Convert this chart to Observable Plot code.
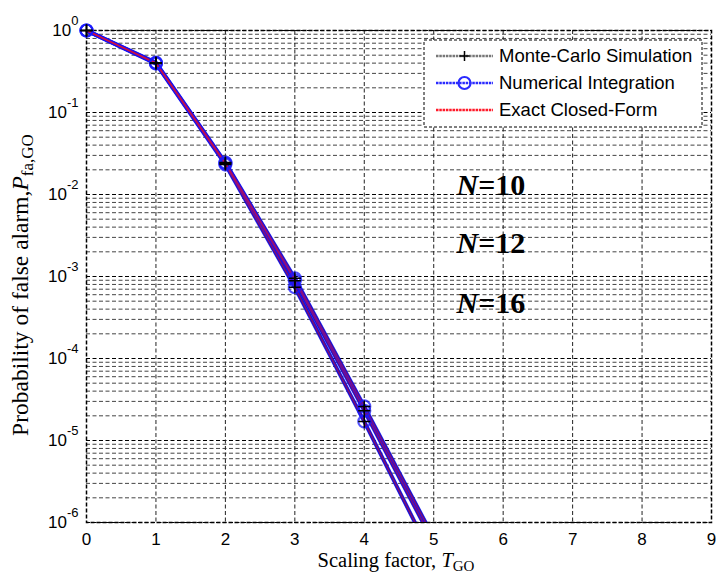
<!DOCTYPE html>
<html>
<head>
<meta charset="utf-8">
<script src="https://cdn.jsdelivr.net/npm/d3@7"></script>
<script src="https://cdn.jsdelivr.net/npm/@observablehq/plot@0.6"></script>
<style>
  html, body { margin: 0; padding: 0; background: #fff; }
  #chart { width: 716px; height: 578px; }
</style>
</head>
<body>
<div id="chart"></div>
<script>
// Scaling factor values at which the false-alarm probability was evaluated
const scalingFactor = [0, 1, 2, 3, 4, 5];

// Probability of false alarm for the GO detector, one series per reference window size
const pfaN10 = [1, 0.405, 0.0245, 9.5e-4, 2.6e-5, 6.5e-7];
const pfaN12 = [1, 0.400, 0.0240, 8.9e-4, 2.3e-5, 5.6e-7];
const pfaN16 = [1, 0.395, 0.0232, 7.4e-4, 1.7e-5, 3.5e-7];

const windowSizes = [10, 12, 16];
const seriesNames = ["Monte-Carlo Simulation", "Numerical Integration", "Exact Closed-Form"];

// Axis ticks
const xTicks = [0, 1, 2, 3, 4, 5, 6, 7, 8, 9];
const yExponents = [0, -1, -2, -3, -4, -5, -6];
const minorMultipliers = [2, 3, 4, 5, 6, 7, 8, 9];

// Window-size annotations
const nLabels = ["=10", "=12", "=16"];
const nLabelX = 5.64;
const nLabelY = [0.0129, 2.5e-3, 4.7e-4];

// ---- derived tables ----
const pfaByN = [pfaN10, pfaN12, pfaN16];
const rows = windowSizes.flatMap((n, i) =>
  scalingFactor.map((t, j) => ({ T: t, pfa: pfaByN[i][j], N: n }))
);
const yMin = 1e-6;
const visibleRows = rows.filter(d => d.pfa >= yMin);
const majorTicks = yExponents.map(e => Math.pow(10, e));
const minorTicks = yExponents.slice(1).flatMap(e => minorMultipliers.map(m => m * Math.pow(10, e)));
const annotations = nLabels.map((s, i) => ({ text: s, x: nLabelX, y: nLabelY[i] }));

const gridDash = "4,2.5";
const serif = "'Liberation Serif', 'Times New Roman', serif";

const plot = Plot.plot({
  width: 716,
  height: 578,
  marginLeft: 86,
  marginRight: 5,
  marginTop: 30,
  marginBottom: 56,
  style: { fontFamily: "'Liberation Sans', Arial, sans-serif", fontSize: "17px", background: "#fff", color: "#000" },
  x: { domain: [0, 9] },
  y: { type: "log", domain: [yMin, 1] },
  marks: [
    // grid
    Plot.ruleY(minorTicks, { stroke: "#444", strokeWidth: 1, strokeDasharray: gridDash }),
    Plot.ruleY(majorTicks, { stroke: "#000", strokeWidth: 1, strokeDasharray: gridDash }),
    Plot.ruleX(xTicks.slice(1, -1), { stroke: "#222", strokeWidth: 1, strokeDasharray: gridDash }),
    Plot.frame({ stroke: "#000", strokeWidth: 1.5, strokeDasharray: "4,2" }),
    // axes
    Plot.axisX({ ticks: xTicks, tickSize: 0, tickPadding: 10, label: null, tickFormat: d => String(d) }),
    Plot.axisY({ ticks: majorTicks, tickSize: 0, tickPadding: 8, label: null,
      tickFormat: d => String(Math.round(Math.log10(d))) }),
    // curves
    Plot.line(rows, { x: "T", y: "pfa", z: "N", stroke: "#000", strokeWidth: 3, clip: true }),
    Plot.line(rows, { x: "T", y: "pfa", z: "N", stroke: "#1010ff", strokeWidth: 4, strokeOpacity: 0.8, clip: true }),
    Plot.line(rows, { x: "T", y: "pfa", z: "N", stroke: "#e8102a", strokeWidth: 1.6, strokeOpacity: 0.5, clip: true }),
    Plot.dot(visibleRows, { x: "T", y: "pfa", r: 6, fill: "none", stroke: "#1a1aff", strokeWidth: 2.2, strokeOpacity: 0.75 }),
    Plot.dot(visibleRows, { x: "T", y: "pfa", symbol: "plus", r: 4, stroke: "#000", strokeWidth: 1.5 }),
    // window-size annotations
    Plot.text(annotations, { x: "x", y: "y", text: () => "N", textAnchor: "end",
      fontFamily: serif, fontSize: 30, fontWeight: "bold", fontStyle: "italic", fill: "#000" }),
    Plot.text(annotations, { x: "x", y: "y", text: "text", textAnchor: "start",
      fontFamily: serif, fontSize: 30, fontWeight: "bold", fill: "#000" })
  ]
});

document.getElementById("chart").appendChild(plot);

const svg = d3.select(plot);

// y tick labels as powers of ten
svg.selectAll('g[aria-label="y-axis tick label"] text').each(function () {
  const e = this.textContent;
  const t = d3.select(this);
  t.text(null);
  t.append("tspan").text("10");
  t.append("tspan").attr("dy", "-10.5").attr("font-size", "13px").text(e);
});

// axis titles
svg.append("text")
  .attr("x", 396).attr("y", 567)
  .attr("text-anchor", "middle")
  .attr("font-family", serif).attr("font-size", "20.5px")
  .call(t => {
    t.append("tspan").text("Scaling factor, ");
    t.append("tspan").attr("font-style", "italic").text("T");
    t.append("tspan").attr("dy", "4").attr("font-size", "15px").text("GO");
  });

svg.append("text")
  .attr("transform", "translate(28,285) rotate(-90)")
  .attr("text-anchor", "middle")
  .attr("font-family", serif).attr("font-size", "23.5px")
  .call(t => {
    t.append("tspan").text("Probability of false alarm,");
    t.append("tspan").attr("font-style", "italic").text("P");
    t.append("tspan").attr("dy", "5").attr("font-size", "17px").text("fa,GO");
  });

// legend
const lg = svg.append("g")
  .attr("font-family", "'Liberation Sans', Arial, sans-serif")
  .attr("font-size", "18.5px")
  .attr("text-anchor", "start");
lg.append("rect").attr("x", 424).attr("y", 40).attr("width", 278).attr("height", 87)
  .attr("fill", "#fff").attr("stroke", "#000").attr("stroke-width", 1).attr("stroke-dasharray", "3,2");
const rowY = [56, 83, 110];
const legendStroke = ["#777", "#2a2aff", "#ff1a2a"];
seriesNames.forEach((name, i) => {
  lg.append("line").attr("x1", 436).attr("x2", 493).attr("y1", rowY[i]).attr("y2", rowY[i])
    .attr("stroke", legendStroke[i]).attr("stroke-width", 2.4).attr("stroke-dasharray", "2.5,0.8");
  lg.append("text").attr("x", 499).attr("y", rowY[i]).attr("dy", "0.35em")
    .attr("text-anchor", "start").attr("fill", "#000").text(name);
});
lg.append("path").attr("d", `M${464.5 - 5},${rowY[0]}h10M464.5,${rowY[0] - 5}v10`)
  .attr("stroke", "#000").attr("stroke-width", 1.5);
lg.append("circle").attr("cx", 464.5).attr("cy", rowY[1]).attr("r", 6)
  .attr("fill", "none").attr("stroke", "#2a2aff").attr("stroke-width", 2.2);
</script>
</body>
</html>
